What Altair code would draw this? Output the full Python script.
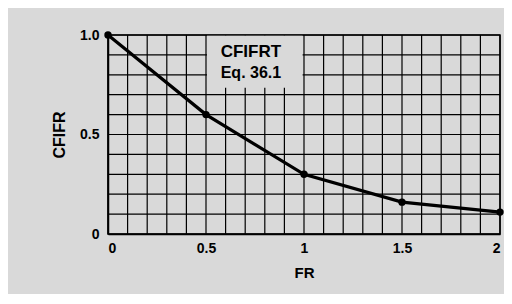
import altair as alt
import pandas as pd

fr = [0, 0.5, 1.0, 1.5, 2.0]
cfifr = [1.0, 0.6, 0.3, 0.16, 0.11]
x_ticks = [0, 0.5, 1, 1.5, 2]
y_ticks = [0, 0.5, 1.0]
title_lines = ["CFIFRT", "Eq. 36.1"]

df = pd.DataFrame({"FR": fr, "CFIFR": cfifr})
bg = "#d9d9d9"
font = "Liberation Sans"

x_scale = alt.Scale(domain=[0, 2], nice=False, zero=False)
y_scale = alt.Scale(domain=[0, 1], nice=False, zero=False)

xgrid = [i / 10 for i in range(21)]
ygrid = [i / 10 for i in range(11)]

vlines = alt.Chart(pd.DataFrame({"g": xgrid})).mark_rule(color="black", strokeWidth=1.2).encode(
    x=alt.X("g:Q", scale=x_scale, title="FR",
            axis=alt.Axis(values=x_ticks, grid=False, ticks=False, domain=True, domainColor="black",
                          domainWidth=1.5, labelFont=font, labelFontWeight="bold", labelFontSize=14,
                          labelColor="black", labelPadding=7,
                          labelExpr="format(datum.value, '')",
                          titleFont=font, titleFontWeight="bold",
                          titleFontSize=15, titleColor="black", titlePadding=10))
)
hlines = alt.Chart(pd.DataFrame({"g": ygrid})).mark_rule(color="black", strokeWidth=1.2).encode(
    y=alt.Y("g:Q", scale=y_scale, title="CFIFR",
            axis=alt.Axis(values=y_ticks, grid=False, ticks=False, domain=True, domainColor="black",
                          domainWidth=1.5, labelFont=font, labelFontWeight="bold", labelFontSize=14,
                          labelColor="black", labelPadding=9,
                          labelExpr="datum.value == 0 ? '0' : format(datum.value, '.1f')",
                          titleFont=font, titleFontWeight="bold", titleFontSize=16,
                          titleColor="black", titlePadding=12))
)

box = alt.Chart(pd.DataFrame({"x": [0.505], "x2": [0.993], "y": [0.735], "y2": [0.996]})).mark_rect(
    color=bg).encode(x=alt.X("x:Q", scale=x_scale), x2="x2:Q",
                     y=alt.Y("y:Q", scale=y_scale), y2="y2:Q")

txt = alt.Chart(pd.DataFrame({"t": title_lines, "x": [0.575, 0.575], "y": [0.915, 0.81],
                              "s": [17, 16]})).mark_text(
    font=font, fontWeight="bold", color="black", align="left", baseline="middle").encode(
    x=alt.X("x:Q", scale=x_scale), y=alt.Y("y:Q", scale=y_scale), text="t:N",
    size=alt.Size("s:Q", scale=None, legend=None))

line = alt.Chart(df).mark_line(color="black", strokeWidth=3.2).encode(
    x=alt.X("FR:Q", scale=x_scale), y=alt.Y("CFIFR:Q", scale=y_scale))
pts = alt.Chart(df).mark_point(filled=True, color="black", size=55, opacity=1).encode(
    x=alt.X("FR:Q", scale=x_scale), y=alt.Y("CFIFR:Q", scale=y_scale))

chart = alt.layer(vlines, hlines, box, txt, line, pts).properties(
    width=392, height=199,
    autosize=alt.AutoSizeParams(type="none"),
    padding={"left": 100, "top": 27, "right": 4, "bottom": 60},
    background=bg,
).configure_view(stroke="black", strokeWidth=1.5, fill=bg)

chart.save("out.html", embed_options={"renderer": "svg", "actions": False})
